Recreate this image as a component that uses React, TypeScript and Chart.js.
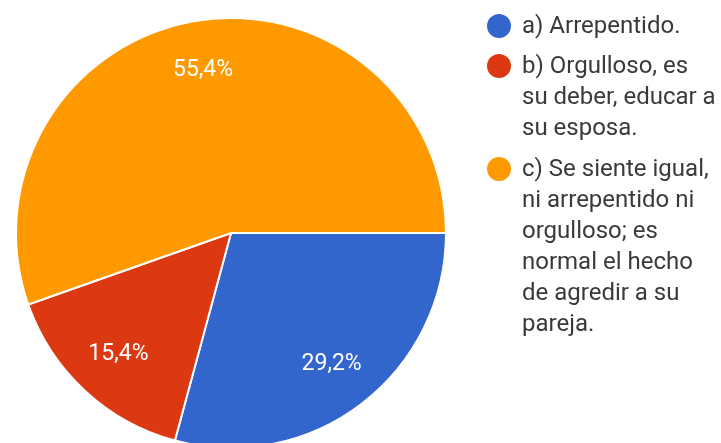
import React, { useEffect, useRef } from "react";
import { Chart, registerables } from "chart.js";

Chart.register(...registerables);

const categories = [
  "a) Arrepentido.",
  "b) Orgulloso, es su deber, educar a su esposa.",
  "c) Se siente igual, ni arrepentido ni orgulloso; es normal el hecho de agredir a su pareja.",
];
const legendLines: string[][] = [
  ["a) Arrepentido."],
  ["b) Orgulloso, es", "su deber, educar a", "su esposa."],
  ["c) Se siente igual,", "ni arrepentido ni", "orgulloso; es", "normal el hecho", "de agredir a su", "pareja."],
];
const values = [29.2, 15.4, 55.4];
const valueLabels = ["29,2%", "15,4%", "55,4%"];
const colors = ["#3366CC", "#DC3912", "#FF9900"];

const labelPlugin = {
  id: "sliceLabels",
  afterDatasetsDraw(chart: any) {
    const ctx = chart.ctx;
    const meta = chart.getDatasetMeta(0);
    ctx.save();
    ctx.font = "23px Roboto";
    ctx.fillStyle = "#ffffff";
    ctx.textAlign = "center";
    ctx.textBaseline = "middle";
    meta.data.forEach((arc: any, i: number) => {
      const p = arc.getProps(["x", "y", "startAngle", "endAngle", "outerRadius"], true);
      const mid = (p.startAngle + p.endAngle) / 2;
      const r = p.outerRadius * 0.77;
      ctx.fillText(valueLabels[i], p.x + Math.cos(mid) * r, p.y + Math.sin(mid) * r);
    });
    ctx.restore();
  },
};

export default function App() {
  const ref = useRef<HTMLCanvasElement | null>(null);
  useEffect(() => {
    if (!ref.current) return;
    const chart = new Chart(ref.current, {
      type: "pie",
      data: {
        labels: categories,
        datasets: [
          {
            data: values,
            backgroundColor: colors,
            borderColor: "#ffffff",
            borderWidth: 2,
          },
        ],
      },
      options: {
        responsive: false,
        animation: false,
        rotation: 90,
        layout: { padding: { left: 15, top: 17, right: 274, bottom: 11 } },
        plugins: { legend: { display: false }, tooltip: { enabled: false } },
      },
      plugins: [labelPlugin],
    });
    return () => chart.destroy();
  }, []);

  const tops = [9.5, 49.5, 152.5];
  return (
    <div
      style={{
        position: "absolute",
        left: 0,
        top: 0,
        width: 721,
        height: 443,
        overflow: "hidden",
        background: "#ffffff",
        fontFamily: "Roboto, sans-serif",
      }}
    >
      <canvas ref={ref} width={721} height={460} style={{ position: "absolute", left: 0, top: 0 }} />
      {legendLines.map((lines, i) => (
        <div key={i} style={{ position: "absolute", left: 487, top: tops[i], display: "flex" }}>
          <div
            style={{
              width: 24,
              height: 24,
              borderRadius: 12,
              background: colors[i],
              marginTop: 4,
              flex: "0 0 auto",
            }}
          />
          <div
            style={{
              marginLeft: 11,
              fontSize: 24,
              lineHeight: "31px",
              color: "#3a3a3a",
              whiteSpace: "nowrap",
            }}
          >
            {lines.map((l, j) => (
              <div key={j}>{l}</div>
            ))}
          </div>
        </div>
      ))}
    </div>
  );
}
